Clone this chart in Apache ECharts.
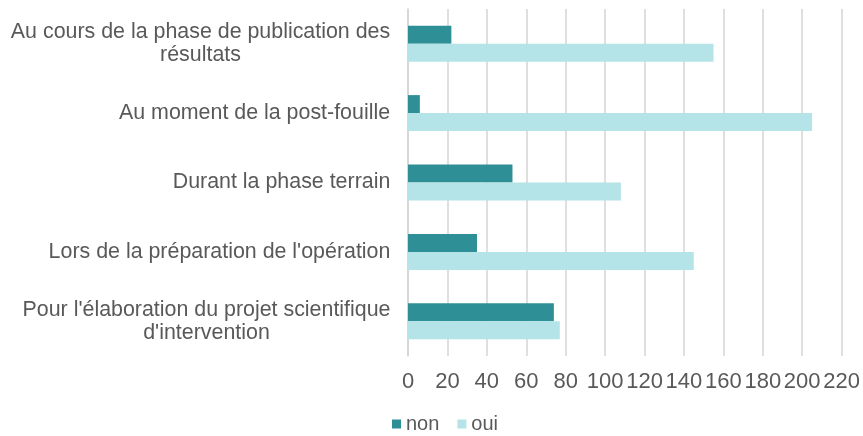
<!DOCTYPE html>
<html lang="fr">
<head>
    <meta charset="UTF-8">
    <title>Document</title>
    <script src="https://cdn.jsdelivr.net/npm/echarts@6/dist/echarts.min.js"></script>
</head>
<body style="margin:0">
    <div id="main" style="width: 863px;height:436px;"></div>
<script type="text/javascript">
    // données
    var categories = [
        "Au cours de la phase de publication des\nrésultats",
        "Au moment de la post-fouille",
        "Durant la phase terrain",
        "Lors de la préparation de l'opération",
        "Pour l'élaboration du projet scientifique\nd'intervention"
    ];
    var nonValues = [22, 6, 53, 35, 74];
    var ouiValues = [155, 205, 108, 145, 77];
    var xTicks = [0, 220, 20]; // min, max, pas

    var labelFont = 'Liberation Sans';
    var labelSize = 21.4;

    // largeur du bloc de texte pour centrer les lignes entre elles
    var ctx = document.createElement('canvas').getContext('2d');
    ctx.font = labelSize + 'px "' + labelFont + '"';
    function blockWidth(txt) {
        var w = 0;
        txt.split('\n').forEach(function (l) {
            w = Math.max(w, ctx.measureText(l).width);
        });
        return Math.ceil(w) + 1;
    }

    var rich = {};
    categories.forEach(function (c, i) {
        rich['c' + i] = {
            width: blockWidth(c),
            align: 'center',
            fontSize: labelSize,
            fontFamily: labelFont,
            color: '#595959',
            lineHeight: 23
        };
    });

    var myChart = echarts.init(document.getElementById('main'));
    var option = {
        animation: false,
        textStyle: {fontFamily: labelFont},
        grid: {left: 408, right: 21, top: 9, bottom: 80, containLabel: false},
        legend: {
            data: ['non', 'oui'],
            top: 414,
            left: 387,
            padding: [0, 5],
            itemWidth: 9,
            itemHeight: 9,
            itemGap: 18,
            icon: 'rect',
            textStyle: {fontSize: 20, color: '#595959', fontFamily: labelFont}
        },
        xAxis: {
            type: 'value',
            min: xTicks[0],
            max: xTicks[1],
            interval: xTicks[2],
            axisLine: {show: false},
            axisTick: {show: false},
            axisLabel: {fontSize: 22, color: '#595959', margin: 15, fontFamily: labelFont},
            splitLine: {lineStyle: {color: '#d4d4d4', width: 1.5}}
        },
        yAxis: {
            type: 'category',
            data: categories,
            inverse: true,
            axisLine: {lineStyle: {color: '#d4d4d4', width: 1.5}},
            axisTick: {show: false},
            axisLabel: {
                margin: 17,
                align: 'right',
                formatter: function (value, idx) {
                    var key = 'c' + categories.indexOf(value);
                    return value.split('\n').map(function (l) {
                        return '{' + key + '|' + l + '}';
                    }).join('\n');
                },
                rich: rich
            }
        },
        series: [
            {
                name: 'non',
                type: 'bar',
                data: nonValues,
                barWidth: 18,
                barGap: '0%',
                itemStyle: {color: '#2e8f97'}
            },
            {
                name: 'oui',
                type: 'bar',
                data: ouiValues,
                barWidth: 18,
                barGap: '0%',
                itemStyle: {color: '#b5e4e8'}
            }
        ]
    };
    myChart.setOption(option);
</script>
</body>
</html>
